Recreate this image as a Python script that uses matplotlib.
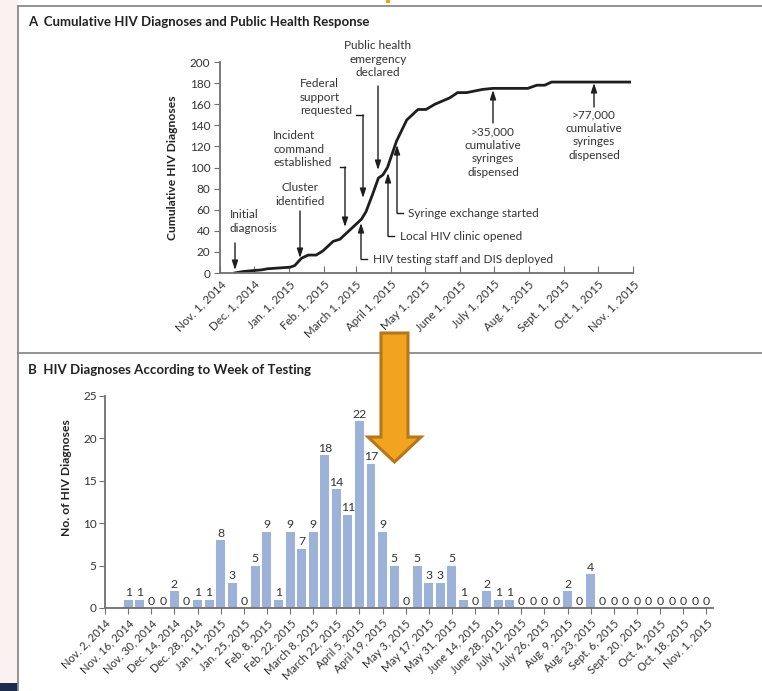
import numpy as np
from matplotlib import pyplot as plt
from matplotlib.patches import Polygon, Rectangle

plt.rcParams['font.family'] = ['Lato', 'DejaVu Sans']

W, H = 762, 691
TXT = '#333333'
AXC = '#707070'
INK = '#1e1e1e'

# ---- Panel A: cumulative diagnoses ----
curve_dates = ['2014-11-14', '2014-11-22', '2014-12-08', '2014-12-13',
               '2015-01-02', '2015-01-06', '2015-01-12', '2015-01-18',
               '2015-01-25', '2015-01-31', '2015-02-09', '2015-02-15',
               '2015-02-24', '2015-03-06', '2015-03-10', '2015-03-16',
               '2015-03-21', '2015-03-25', '2015-03-29', '2015-04-06',
               '2015-04-15', '2015-04-25', '2015-05-02', '2015-05-10',
               '2015-05-23', '2015-05-30', '2015-06-07', '2015-06-21',
               '2015-06-30', '2015-07-31', '2015-08-08', '2015-08-15',
               '2015-08-21', '2015-10-29']
curve_values = [0, 1.5, 3, 4, 5.5, 7, 14, 17, 17, 21, 30, 32, 41, 51, 58, 75,
                90, 93, 100, 125, 145, 155, 155, 160, 166, 171, 171, 174,
                175, 175, 178, 178, 181, 181]
month_ticks = ['2014-11-01', '2014-12-01', '2015-01-01', '2015-02-01',
               '2015-03-01', '2015-04-01', '2015-05-01', '2015-06-01',
               '2015-07-01', '2015-08-01', '2015-09-01', '2015-10-01',
               '2015-11-01']
month_labels = ['Nov. 1, 2014', 'Dec. 1, 2014', 'Jan. 1, 2015', 'Feb. 1, 2015',
                'March 1, 2015', 'April 1, 2015', 'May 1, 2015',
                'June 1, 2015', 'July 1, 2015', 'Aug. 1, 2015',
                'Sept. 1, 2015', 'Oct. 1, 2015', 'Nov. 1, 2015']

# ---- Panel B: weekly diagnoses, weeks starting Nov. 16, 2014 ----
first_week = '2014-11-16'
weekly_counts = [1, 1, 0, 0, 2, 0, 1, 1, 8, 3, 0, 5, 9, 1, 9, 7, 9, 18, 14,
                 11, 22, 17, 9, 5, 0, 5, 3, 3, 5, 1, 0, 2, 1, 1, 0, 0, 0, 0,
                 2, 0, 4, 0, 0, 0, 0, 0, 0, 0, 0, 0, 0]
biweek_ticks_start = '2014-11-02'
biweek_labels = ['Nov. 2, 2014', 'Nov. 16, 2014', 'Nov. 30, 2014',
                 'Dec. 14, 2014', 'Dec. 28, 2014', 'Jan. 11, 2015',
                 'Jan. 25, 2015', 'Feb. 8, 2015', 'Feb. 22, 2015',
                 'March 8, 2015', 'March 22, 2015', 'April 5, 2015',
                 'April 19, 2015', 'May 3, 2015', 'May 17, 2015',
                 'May 31, 2015', 'June 14, 2015', 'June 28, 2015',
                 'July 12, 2015', 'July 26, 2015', 'Aug. 9, 2015',
                 'Aug. 23, 2015', 'Sept. 6, 2015', 'Sept. 20, 2015',
                 'Oct. 4, 2015', 'Oct. 18, 2015', 'Nov. 1, 2015']


def fig_rect(x0, y0, x1, y1):
    """像素框 -> figure 坐标"""
    return [x0 / W, 1 - y1 / H, (x1 - x0) / W, (y1 - y0) / H]


def style_axis(ax):
    for s in ['top', 'right']:
        ax.spines[s].set_visible(False)
    for s in ['left', 'bottom']:
        ax.spines[s].set_color(AXC)
        ax.spines[s].set_linewidth(1.3)
    ax.patch.set_alpha(0)


fig = plt.figure(figsize=(W / 100, H / 100), dpi=100)

# background: page strip + frame
bg = fig.add_axes([0, 0, 1, 1], zorder=0)
bg.set_xlim(0, W)
bg.set_ylim(H, 0)
bg.axis('off')
bg.add_patch(Rectangle((0, 0), 18, H, facecolor='#fcf1f1', edgecolor='none'))
bg.add_patch(Rectangle((0, 683), 18, 8, facecolor='#1c2a4c', edgecolor='none'))
bg.add_patch(Rectangle((386, 0), 4, 3, facecolor='#f0a020', edgecolor='none'))
for xs, ys in [((18, W), (6, 6)), ((18, 18), (6, H)), ((18, W), (353, 353))]:
    bg.plot(xs, ys, color='#8a8a8a', lw=1.3)

# ---------------- Panel A ----------------
axA = fig.add_axes(fig_rect(220, 62, 633, 273), zorder=1)
style_axis(axA)
axA.plot(np.array(curve_dates, dtype='datetime64[D]'), curve_values,
         color=INK, lw=2.0, solid_joinstyle='round')
axA.set_xlim(np.datetime64('2014-11-01'), np.datetime64('2015-11-01'))
axA.set_ylim(0, 200)
axA.set_yticks(np.arange(0, 201, 20))
axA.set_xticks(np.array(month_ticks, dtype='datetime64[D]'))
axA.set_xticklabels(month_labels, rotation=45, ha='right',
                    rotation_mode='anchor')
axA.tick_params(axis='x', direction='in', length=5, color=AXC, labelsize=8.3,
                labelcolor=TXT, pad=4)
axA.tick_params(axis='y', direction='out', length=4, color=AXC, labelsize=8.5,
                labelcolor=TXT, pad=3)

# ---------------- Panel B ----------------
axB = fig.add_axes(fig_rect(105, 396, 713, 608), zorder=1)
style_axis(axB)
week_dates = np.datetime64(first_week) + np.arange(len(weekly_counts)) * 7
axB.bar(week_dates, weekly_counts, width=5.4, color='#9db2d8', edgecolor='none')
for d, v in zip(week_dates, weekly_counts):
    axB.annotate(str(v), (d, v), xytext=(0, 1), textcoords='offset points',
                 ha='center', va='bottom', fontsize=8.8, color=TXT)
tick_dates = np.datetime64(biweek_ticks_start) + np.arange(len(biweek_labels)) * 14
axB.set_xlim(np.datetime64('2014-11-02'), np.datetime64('2015-11-05'))
axB.set_ylim(0, 25)
axB.set_yticks(np.arange(0, 26, 5))
axB.set_xticks(tick_dates)
axB.set_xticklabels(biweek_labels, rotation=45, ha='right',
                    rotation_mode='anchor')
axB.tick_params(axis='x', direction='out', length=4, color=AXC, labelsize=8,
                labelcolor=TXT, pad=3)
axB.tick_params(axis='y', direction='out', length=4, color=AXC, labelsize=8.5,
                labelcolor=TXT, pad=2)

# ---------------- text / annotations (pixel overlay) ----------------
fg = fig.add_axes([0, 0, 1, 1], zorder=3)
fg.set_xlim(0, W)
fg.set_ylim(H, 0)
fg.axis('off')

fg.text(28, 22, 'A  Cumulative HIV Diagnoses and Public Health Response',
        fontsize=9.5, fontweight='bold', color='#222222', va='center')
fg.text(28, 370, 'B  HIV Diagnoses According to Week of Testing',
        fontsize=9.5, fontweight='bold', color='#222222', va='center')
fg.text(172, 168, 'Cumulative HIV Diagnoses', rotation=90, fontsize=8.7,
        fontweight='bold', color='#222222', ha='center', va='center')
fg.text(66, 478, 'No. of HIV Diagnoses', rotation=90, fontsize=8.7,
        fontweight='bold', color='#222222', ha='center', va='center')

ARW = dict(arrowstyle='-|>,head_length=0.55,head_width=0.18', color=INK,
           lw=1, shrinkA=0, shrinkB=0)


def arrow(x, y_from, y_to):
    fg.annotate('', xy=(x, y_to), xytext=(x, y_from), arrowprops=ARW)


def label(x, y, s, ha='left'):
    fg.text(x, y, s, fontsize=8.5, color=TXT, ha=ha, va='top',
            linespacing=1.3)


label(230, 209, 'Initial\ndiagnosis')
arrow(235, 243, 270)

label(300, 182, 'Cluster\nidentified', ha='center')
arrow(300, 211, 258)

label(273, 130, 'Incident\ncommand\nestablished')
fg.plot([340, 345], [167, 167], color=INK, lw=1)
arrow(345, 167, 227)

label(300, 78, 'Federal\nsupport\nrequested')
fg.plot([356, 363], [115, 115], color=INK, lw=1)
arrow(363, 115, 198)

label(378, 40, 'Public health\nemergency\ndeclared', ha='center')
arrow(378, 86, 170)

fg.text(408, 213, 'Syringe exchange started', fontsize=8.5, color=TXT,
        va='center')
fg.plot([397, 403], [213, 213], color=INK, lw=1)
arrow(397, 213, 145)

fg.text(400, 236, 'Local HIV clinic opened', fontsize=8.5, color=TXT,
        va='center')
fg.plot([388, 394], [236, 236], color=INK, lw=1)
arrow(388, 236, 173)

fg.text(373, 259, 'HIV testing staff and DIS deployed', fontsize=8.5,
        color=TXT, va='center')
fg.plot([361, 367], [259, 259], color=INK, lw=1)
arrow(361, 259, 223)

label(493, 126, '>35,000\ncumulative\nsyringes\ndispensed', ha='center')
arrow(493, 123, 90)

label(594, 109, '>77,000\ncumulative\nsyringes\ndispensed', ha='center')
arrow(594, 107, 83)

# orange highlight arrow
fg.add_patch(Polygon([(381, 333), (408, 333), (408, 437), (421, 437),
                      (394.5, 462), (368, 437), (381, 437)],
                     closed=True, facecolor='#f2a31f', edgecolor='#b5771a',
                     lw=2.2, joinstyle='miter'))

fig.savefig('out.png', dpi=100, facecolor='white')
